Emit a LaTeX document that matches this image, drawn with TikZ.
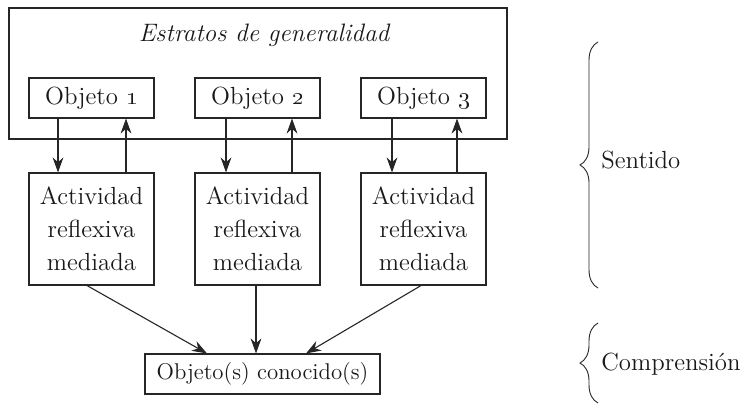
\documentclass[tikz,border=0pt]{standalone}
\usetikzlibrary{arrows.meta,decorations.pathreplacing}
\begin{document}
\begin{tikzpicture}[x=0.5pt,y=-0.5pt,
  every node/.style={font=\fontsize{12.4}{16.5}\selectfont, inner sep=0pt, text=black!90},
  box/.style={draw=black!85, line width=0.55pt},
  objbox/.style={box, minimum width=62.5pt, minimum height=20pt},
  actbox/.style={box, minimum width=62.5pt, minimum height=56pt, align=center},
  arr/.style={draw=black!85, line width=0.55pt, -{Stealth[length=7.5pt,width=5.4pt,inset=2.4pt]}},
  brc/.style={draw=black!85, line width=0.45pt, decorate, decoration={brace, amplitude=9pt}}]
\useasboundingbox (0,0) rectangle (747,416);
% outer frame
\node[box, minimum width=249pt, minimum height=65.5pt] (frame) at (258,73.5) {};
\node[font=\fontsize{12.6}{16.5}\selectfont\itshape] (title) at (264,35) {Estratos de generalidad};
% objects
\node[objbox] (o1) at (91.5,98) {Objeto \oldstylenums{1}};
\node[objbox] (o2) at (257.5,98) {Objeto \oldstylenums{2}};
\node[objbox] (o3) at (423.5,98) {Objeto \oldstylenums{3}};
% activities
\node[actbox] (a1) at (91.5,229) {Actividad\\reflexiva\\mediada};
\node[actbox] (a2) at (257.5,229) {Actividad\\reflexiva\\mediada};
\node[actbox] (a3) at (423.5,229) {Actividad\\reflexiva\\mediada};
% known object
\node[box, minimum width=117.5pt, minimum height=20pt, font=\fontsize{11.4}{16.5}\selectfont] (c) at (262.5,374) {Objeto(s) conocido(s)};
% arrows object <-> activity
\draw[arr] ([xshift=-16.75pt]o1.south) -- ([xshift=-16.75pt]a1.north);
\draw[arr] ([xshift=17.25pt]a1.north) -- ([xshift=17.25pt]o1.south);
\draw[arr] ([xshift=-15.75pt]o2.south) -- ([xshift=-15.75pt]a2.north);
\draw[arr] ([xshift=17.25pt]a2.north) -- ([xshift=17.25pt]o2.south);
\draw[arr] ([xshift=-15.75pt]o3.south) -- ([xshift=-15.75pt]a3.north);
\draw[arr] ([xshift=16.75pt]a3.north) -- ([xshift=16.75pt]o3.south);
% arrows activity -> known
\draw[arr] ([xshift=-2.25pt]a1.south) -- ([xshift=-27.75pt]c.north);
\draw[arr] ([xshift=-0.75pt]a2.south) -- ([xshift=-3.25pt]c.north);
\draw[arr] ([xshift=-1.25pt]a3.south) -- ([xshift=21.75pt]c.north);
% braces
\coordinate (s1) at (598,288);
\coordinate (s2) at (598,42);
\coordinate (k1) at (598,403);
\coordinate (k2) at (598,323);
\draw[brc] (s1) -- (s2);
\draw[brc] (k1) -- (k2);
\node[anchor=west] (sent) at (601,160) {Sentido};
\node[anchor=west] (comp) at (601,364) {Comprensi\'on};
\end{tikzpicture}
\end{document}
